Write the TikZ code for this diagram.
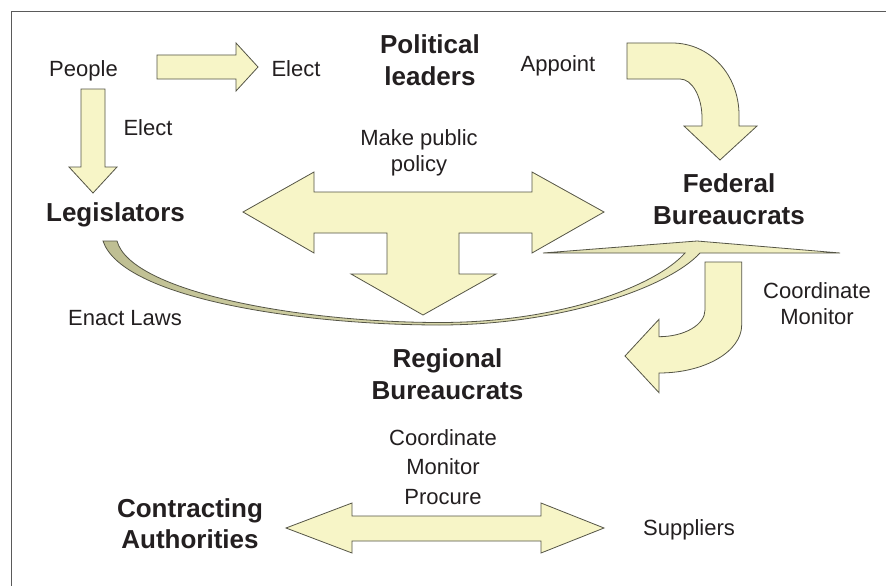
\documentclass[tikz,border=0pt]{standalone}
\usepackage{fontspec}
\setmainfont{Liberation Sans}
\definecolor{arrowfill}{RGB}{247,245,199}
\definecolor{arrowline}{RGB}{85,85,70}
\definecolor{olivefill}{RGB}{190,190,146}
\definecolor{txt}{RGB}{35,31,32}
\definecolor{framecol}{RGB}{90,90,90}
\begin{document}
\begin{tikzpicture}[x=1pt,y=-1pt,
  blockarrow/.style={fill=arrowfill, draw=arrowline, line width=0.8pt, line join=miter},
  lbl/.style={inner sep=0pt, text=txt, font=\fontsize{22}{26}\selectfont, align=center},
  boldlbl/.style={inner sep=0pt, text=txt, font=\fontsize{26}{32}\selectfont\bfseries, align=center},
]
\useasboundingbox[fill=white] (0,0) rectangle (886,586);

% frame
\draw[framecol, line width=1pt] (886,12) -- (11,12) -- (11,586);

% Enact Laws thin curved shape with wedge
\shade[left color=olivefill, middle color=arrowfill, right color=arrowfill, draw=arrowline, line width=0.8pt, line join=miter]
  (103,241) .. controls (122,298) and (300,325) .. (440,325)
  .. controls (560,325) and (668,288) .. (700,253)
  -- (840,253) -- (697,241) -- (543,253) -- (685,253)
  .. controls (656,286) and (560,322.5) .. (440,322.5)
  .. controls (300,322.5) and (131,292) .. (117,241) -- cycle;

% People -> Elect (right arrow)
\path[blockarrow] (157,55) -- (236,55) -- (236,43) -- (258,67) -- (236,91) -- (236,79) -- (157,79) -- cycle;

% People -> Legislators (down arrow)
\path[blockarrow] (81,89) -- (105,89) -- (105,167) -- (117,167) -- (93,193) -- (69,167) -- (81,167) -- cycle;

% Appoint curved arrow
\path[blockarrow] (627,43) -- (672,43) .. controls (710,43) and (739,75) .. (739,115)
  -- (739,126) -- (757,126) -- (720,160) -- (684,126) -- (702,126) -- (702,118)
  .. controls (702,96.5) and (692,79) .. (680,79) -- (627,79) -- cycle;

% Make public policy T arrow
\path[blockarrow] (243,212) -- (314,172) -- (314,192) -- (532,192) -- (532,172) -- (604,212)
  -- (532,253) -- (532,233) -- (459,233) -- (459,274) -- (496,274) -- (423,315)
  -- (351,274) -- (387,274) -- (387,233) -- (314,233) -- (314,253) -- cycle;

% Coordinate Monitor J arrow
\path[blockarrow] (705,262) -- (741.7,262) -- (741.7,325)
  .. controls (741.7,351.5) and (704.6,373) .. (659,373)
  -- (659,392.7) -- (625,356) -- (659,319.3) -- (659,336.7)
  .. controls (684.4,336.7) and (705,324.7) .. (705,310) -- cycle;

% bottom double arrow
\path[blockarrow] (286,528) -- (352,503) -- (352,516) -- (541,516) -- (541,503) -- (604,528)
  -- (541,553) -- (541,541) -- (352,541) -- (352,553) -- cycle;

% labels
\node[lbl, anchor=base] (people) at (83.5,77) {People};
\node[lbl, anchor=base] (electA) at (296,77) {Elect};
\node[boldlbl, anchor=north] (political) at (430,34.4) {Political\\leaders};
\node[lbl, anchor=base] (appoint) at (558,72) {Appoint};
\node[lbl, anchor=base] (electB) at (148,135) {Elect};
\node[lbl, anchor=north] (policy) at (419,129.5) {Make public\\policy};
\node[boldlbl, anchor=base] (legis) at (115.5,221) {Legislators};
\node[boldlbl, anchor=north] (federal) at (729,173.4) {Federal\\Bureaucrats};
\node[lbl, anchor=base] (enact) at (125,325) {Enact Laws};
\node[lbl, anchor=north] (coordA) at (817,282.2) {Coordinate\\Monitor};
\node[boldlbl, anchor=north] (regional) at (447.5,348.4) {Regional\\Bureaucrats};
\node[lbl, anchor=north, font=\fontsize{22}{29.5}\selectfont] (coordB) at (443,429) {Coordinate\\Monitor\\Procure};
\node[boldlbl, anchor=north, font=\fontsize{26}{31}\selectfont\bfseries] (contract) at (190,498.4) {Contracting\\Authorities};
\node[lbl, anchor=base] (suppliers) at (689,535) {Suppliers};
\end{tikzpicture}
\end{document}
